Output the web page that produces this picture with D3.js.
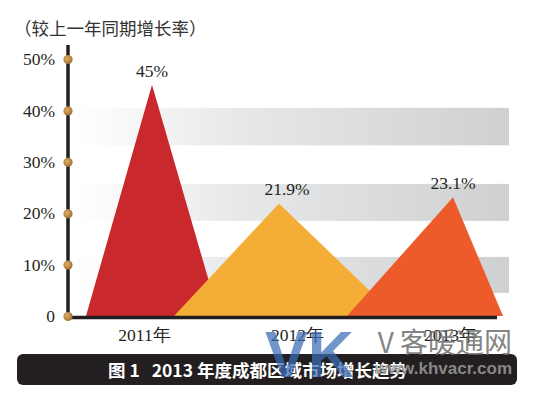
<!DOCTYPE html>
<html>
<head>
<meta charset="utf-8">
<script src="https://cdn.jsdelivr.net/npm/d3@7"></script>
<style>
  body { margin: 0; background: #fff; }
  svg { display: block; }
</style>
</head>
<body>
<div id="chart"></div>
<script>
const years = ['2011年', '2012年', '2013年'];
const growth = [45, 21.9, 23.1];
const valueLabels = ['45%', '21.9%', '23.1%'];
const yTicks = [0, 10, 20, 30, 40, 50];
const yTickLabels = ['0', '10%', '20%', '30%', '40%', '50%'];
// grey stripes behind the peaks, in % units (top, bottom)
const bands = [[40.5, 33.2], [25.7, 18.5], [11.5, 4.5]];

const colors = ['#c9292c', '#f4ae37', '#ee5b2a'];
// triangle shape: apex offset from the category, half widths of the foot
const shapes = [
  { dx: 8, left: 66, right: 67 },
  { dx: -18, left: 105, right: 117 },
  { dx: 3, left: 106, right: 50 }
];

const width = 535, height = 397;
const serif = '"Liberation Serif", "DejaVu Serif", serif';
const cjk = '"Noto Sans CJK SC", sans-serif';

const svg = d3.select('#chart').append('svg')
  .attr('width', width)
  .attr('height', height);

const defs = svg.append('defs');
const bandGrad = defs.append('linearGradient').attr('id', 'bandGrad')
  .attr('x1', '0%').attr('x2', '100%');
bandGrad.append('stop').attr('offset', '0%').attr('stop-color', '#ffffff');
bandGrad.append('stop').attr('offset', '40%').attr('stop-color', '#e6e7e8');
bandGrad.append('stop').attr('offset', '100%').attr('stop-color', '#cfd0d2');

const dotGrad = defs.append('radialGradient').attr('id', 'dotGrad')
  .attr('cx', '40%').attr('cy', '40%').attr('r', '60%');
dotGrad.append('stop').attr('offset', '0%').attr('stop-color', '#dcae6e');
dotGrad.append('stop').attr('offset', '100%').attr('stop-color', '#a5722f');

const yScale = d3.scaleLinear().domain([0, 50]).range([316, 59]);
const xScale = d3.scalePoint().domain(years).range([144, 450]);

// title
svg.append('text')
  .attr('x', 14)
  .attr('y', 35)
  .attr('font-family', cjk)
  .attr('font-size', 17.5)
  .attr('fill', '#333')
  .text('（较上一年同期增长率）');

// stripes
svg.selectAll('.band')
  .data(bands)
  .enter().append('rect')
  .attr('class', 'band')
  .attr('x', 74)
  .attr('width', 509 - 74)
  .attr('y', d => yScale(d[0]))
  .attr('height', d => yScale(d[1]) - yScale(d[0]))
  .attr('fill', 'url(#bandGrad)');

// triangles
const y0 = yScale(0);
svg.selectAll('.peak')
  .data(growth)
  .enter().append('path')
  .attr('class', 'peak')
  .attr('d', (d, i) => {
    const ax = xScale(years[i]) + shapes[i].dx;
    const p = d3.path();
    p.moveTo(ax - shapes[i].left, y0);
    p.lineTo(ax, yScale(d));
    p.lineTo(ax + shapes[i].right, y0);
    p.closePath();
    return p.toString();
  })
  .attr('fill', (d, i) => colors[i]);

// value labels
svg.selectAll('.vlabel')
  .data(growth)
  .enter().append('text')
  .attr('class', 'vlabel')
  .attr('x', (d, i) => xScale(years[i]) + shapes[i].dx + (i === 1 ? 8 : 0))
  .attr('y', d => yScale(d) - 8)
  .attr('text-anchor', 'middle')
  .attr('font-family', serif)
  .attr('font-size', 17.5)
  .attr('fill', '#231f20')
  .text((d, i) => valueLabels[i]);

// baseline
svg.append('line')
  .attr('x1', 68).attr('x2', 497)
  .attr('y1', y0 + 1.5).attr('y2', y0 + 1.5)
  .attr('stroke', '#231f20')
  .attr('stroke-width', 3.5);

// y axis
const yAxis = svg.append('g')
  .attr('transform', 'translate(68,0)')
  .call(d3.axisLeft(yScale).tickValues(yTicks).tickSize(0).tickPadding(13)
    .tickFormat((d, i) => yTickLabels[i]));
yAxis.select('.domain').remove();
yAxis.insert('line', ':first-child')
  .attr('y1', 45).attr('y2', 319)
  .attr('stroke', '#231f20')
  .attr('stroke-width', 3.5);
yAxis.selectAll('.tick').append('circle')
  .attr('r', 4.6)
  .attr('fill', 'url(#dotGrad)');
yAxis.selectAll('.tick text')
  .attr('font-family', serif)
  .attr('font-size', 17.5)
  .attr('fill', '#231f20')
  .attr('dy', '0.32em');

// x axis labels
const xAxis = svg.append('g')
  .attr('transform', 'translate(0,' + (y0 + 3) + ')')
  .call(d3.axisBottom(xScale).tickSize(0).tickPadding(10));
xAxis.select('.domain').remove();
xAxis.selectAll('.tick text')
  .attr('font-family', serif)
  .attr('font-size', 17.5)
  .attr('fill', '#231f20');

// caption bar
svg.append('rect')
  .attr('x', 17).attr('y', 354)
  .attr('width', 500).attr('height', 31)
  .attr('rx', 6)
  .attr('fill', '#231f20');
svg.append('text')
  .attr('x', 108).attr('y', 376.5)
  .attr('font-family', cjk)
  .attr('font-weight', 'bold')
  .attr('font-size', 17.5)
  .attr('fill', '#fff')
  .style('white-space', 'pre')
  .text('图 1   2013 年度成都区域市场增长趋势');

// watermark
const wm = svg.append('g');
wm.append('text')
  .attr('x', 265).attr('y', 377)
  .attr('font-family', '"Liberation Sans", Arial, sans-serif')
  .attr('font-weight', 'bold')
  .attr('font-size', 64)
  .attr('fill', '#3b6db5')
  .attr('opacity', 0.72)
  .text('VK');
wm.append('text')
  .attr('x', 512).attr('y', 353)
  .attr('text-anchor', 'end')
  .attr('font-family', cjk)
  .attr('font-size', 28)
  .attr('fill', '#6f6f6f')
  .attr('opacity', 0.85)
  .text('V 客暖通网');
wm.append('text')
  .attr('x', 512).attr('y', 374)
  .attr('text-anchor', 'end')
  .attr('font-family', '"Liberation Sans", Arial, sans-serif')
  .attr('font-weight', 'bold')
  .attr('font-size', 17)
  .attr('fill', '#9a9a9a')
  .attr('opacity', 0.85)
  .text('www.khvacr.com');
</script>
</body>
</html>
